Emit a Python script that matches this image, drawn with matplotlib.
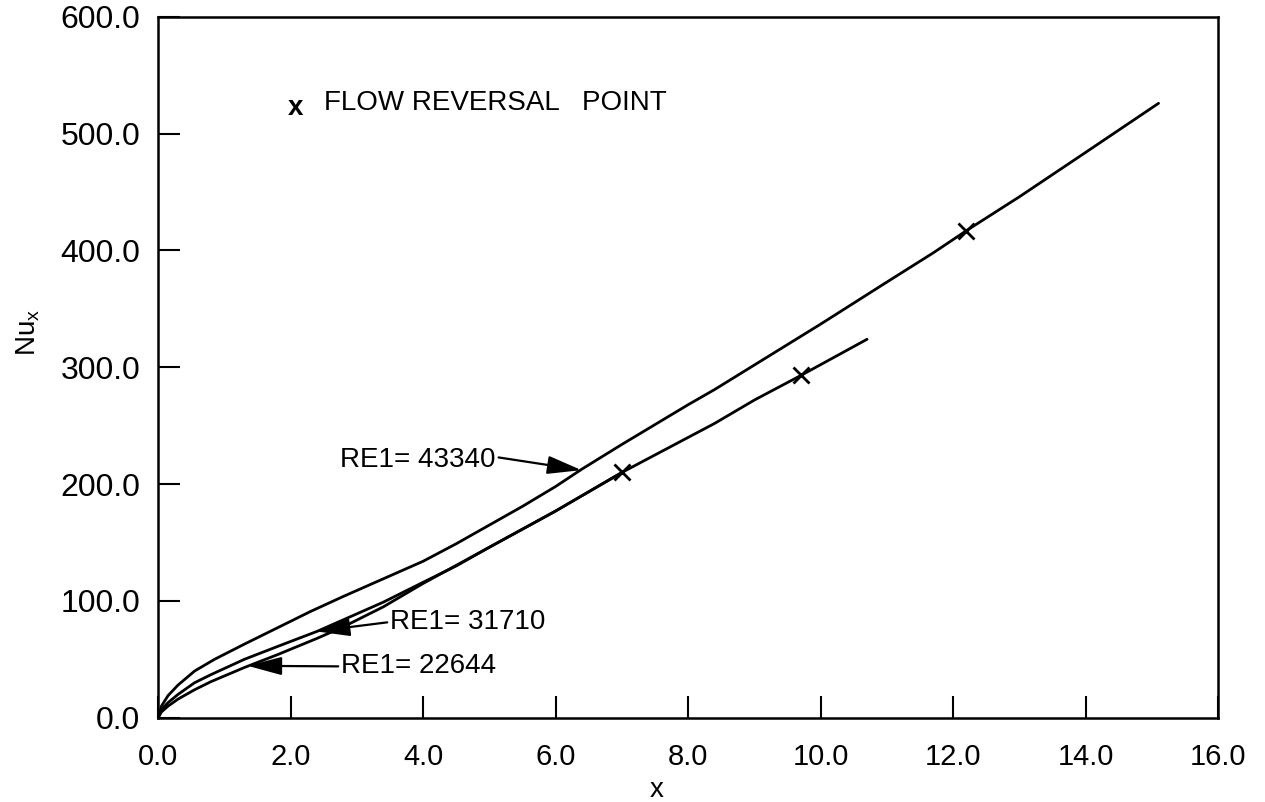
import matplotlib

matplotlib.use("Agg")

import matplotlib.pyplot as plt
import numpy as np
from matplotlib.ticker import FormatStrFormatter

plt.rcParams["font.family"] = ["Liberation Sans", "DejaVu Sans"]
plt.rcParams["mathtext.fontset"] = "custom"
plt.rcParams["mathtext.rm"] = "Liberation Sans"

# Local Nusselt number vs axial position for three inlet Reynolds numbers
x_43340 = [0.0, 0.05, 0.15, 0.3, 0.55, 0.85, 1.3, 1.8, 2.3, 2.8, 3.4, 4.0,
           4.5, 5.0, 5.5, 6.0, 6.4, 7.0, 7.5, 8.0, 8.4, 9.0, 10.0, 11.0,
           11.7, 12.2, 13.0, 14.0, 15.1]
nu_43340 = [0, 10, 19, 28, 40, 50, 63, 77, 91, 104, 119, 134,
            149, 165, 181, 198, 213, 234, 251, 268, 281, 302, 337, 373,
            398, 417, 446, 484, 526]

x_31710 = [0.0, 0.05, 0.15, 0.3, 0.55, 0.8, 1.3, 1.8, 2.4, 2.8, 3.4, 4.0,
           4.5, 5.0, 6.0, 7.0, 7.7, 8.4, 9.0, 9.7, 10.7]
nu_31710 = [0, 7, 13, 20, 30, 37, 50, 61, 74, 84, 99, 116,
            130, 146, 177, 210, 231, 252, 272, 293, 324]

x_22644 = [0.0, 0.05, 0.15, 0.3, 0.55, 0.8, 1.3, 1.8, 2.4, 2.8, 3.4, 4.0,
           5.0, 6.0, 7.0]
nu_22644 = [0, 5, 10, 16, 24, 31, 43, 54, 68, 78, 95, 115,
            146, 177, 210]

# flow reversal points (x, Nu)
rev_x = [12.2, 9.7, 7.0]
rev_nu = [417, 293, 210]

xticks = np.arange(0.0, 16.1, 2.0)
yticks = np.arange(0.0, 601.0, 100.0)

fig = plt.figure(figsize=(12.65, 8.02), dpi=100)
ax = fig.add_axes([0.125, 0.105, 0.838, 0.874])

for xs, ys in [(x_43340, nu_43340), (x_31710, nu_31710), (x_22644, nu_22644)]:
    ax.plot(xs, ys, color="black", lw=2.0, solid_capstyle="round",
            solid_joinstyle="round")

ax.plot(rev_x, rev_nu, ls="none", marker="x", ms=11, mew=2.0, color="black")

arrow = dict(arrowstyle="-|>,head_length=1.5,head_width=0.4",
             color="black", lw=1.6, shrinkA=0, shrinkB=0, mutation_scale=14)
ax.annotate("RE1= 43340", xy=(6.39, 212), xytext=(2.75, 221),
            fontsize=20, va="center", ha="left",
            arrowprops=dict(arrow, relpos=(1.0, 0.6)))
ax.annotate("RE1= 31710", xy=(2.38, 74), xytext=(3.5, 82),
            fontsize=20, va="center", ha="left",
            arrowprops=dict(arrow, relpos=(0.0, 0.5)))
ax.annotate("RE1= 22644", xy=(1.35, 44.5), xytext=(2.76, 44),
            fontsize=20, va="center", ha="left",
            arrowprops=dict(arrow, relpos=(0.0, 0.5)))

ax.text(2.07, 522, "x", fontsize=20, fontweight="bold", ha="center", va="center")
ax.text(2.5, 526, "FLOW REVERSAL   POINT", fontsize=20, ha="left", va="center")

ax.set_xlim(0, 16)
ax.set_ylim(0, 600)
ax.set_xticks(xticks)
ax.set_yticks(yticks)
ax.xaxis.set_major_formatter(FormatStrFormatter("%.1f"))
ax.yaxis.set_major_formatter(FormatStrFormatter("%.1f"))
ax.tick_params(direction="in", length=16, width=1.5, top=False, right=False)
ax.tick_params(axis="x", pad=18, labelsize=21)
ax.tick_params(axis="y", pad=13, labelsize=23)
for s in ax.spines.values():
    s.set_linewidth(1.8)

ax.set_xlabel("x", fontsize=20)
ax.xaxis.set_label_coords(0.47, -0.085)
ax.set_ylabel(r"$\mathrm{Nu}_\mathrm{x}$", fontsize=20)
ax.yaxis.set_label_coords(-0.11, 0.55)

fig.savefig("out.png", dpi=100, facecolor="white")
plt.close(fig)
